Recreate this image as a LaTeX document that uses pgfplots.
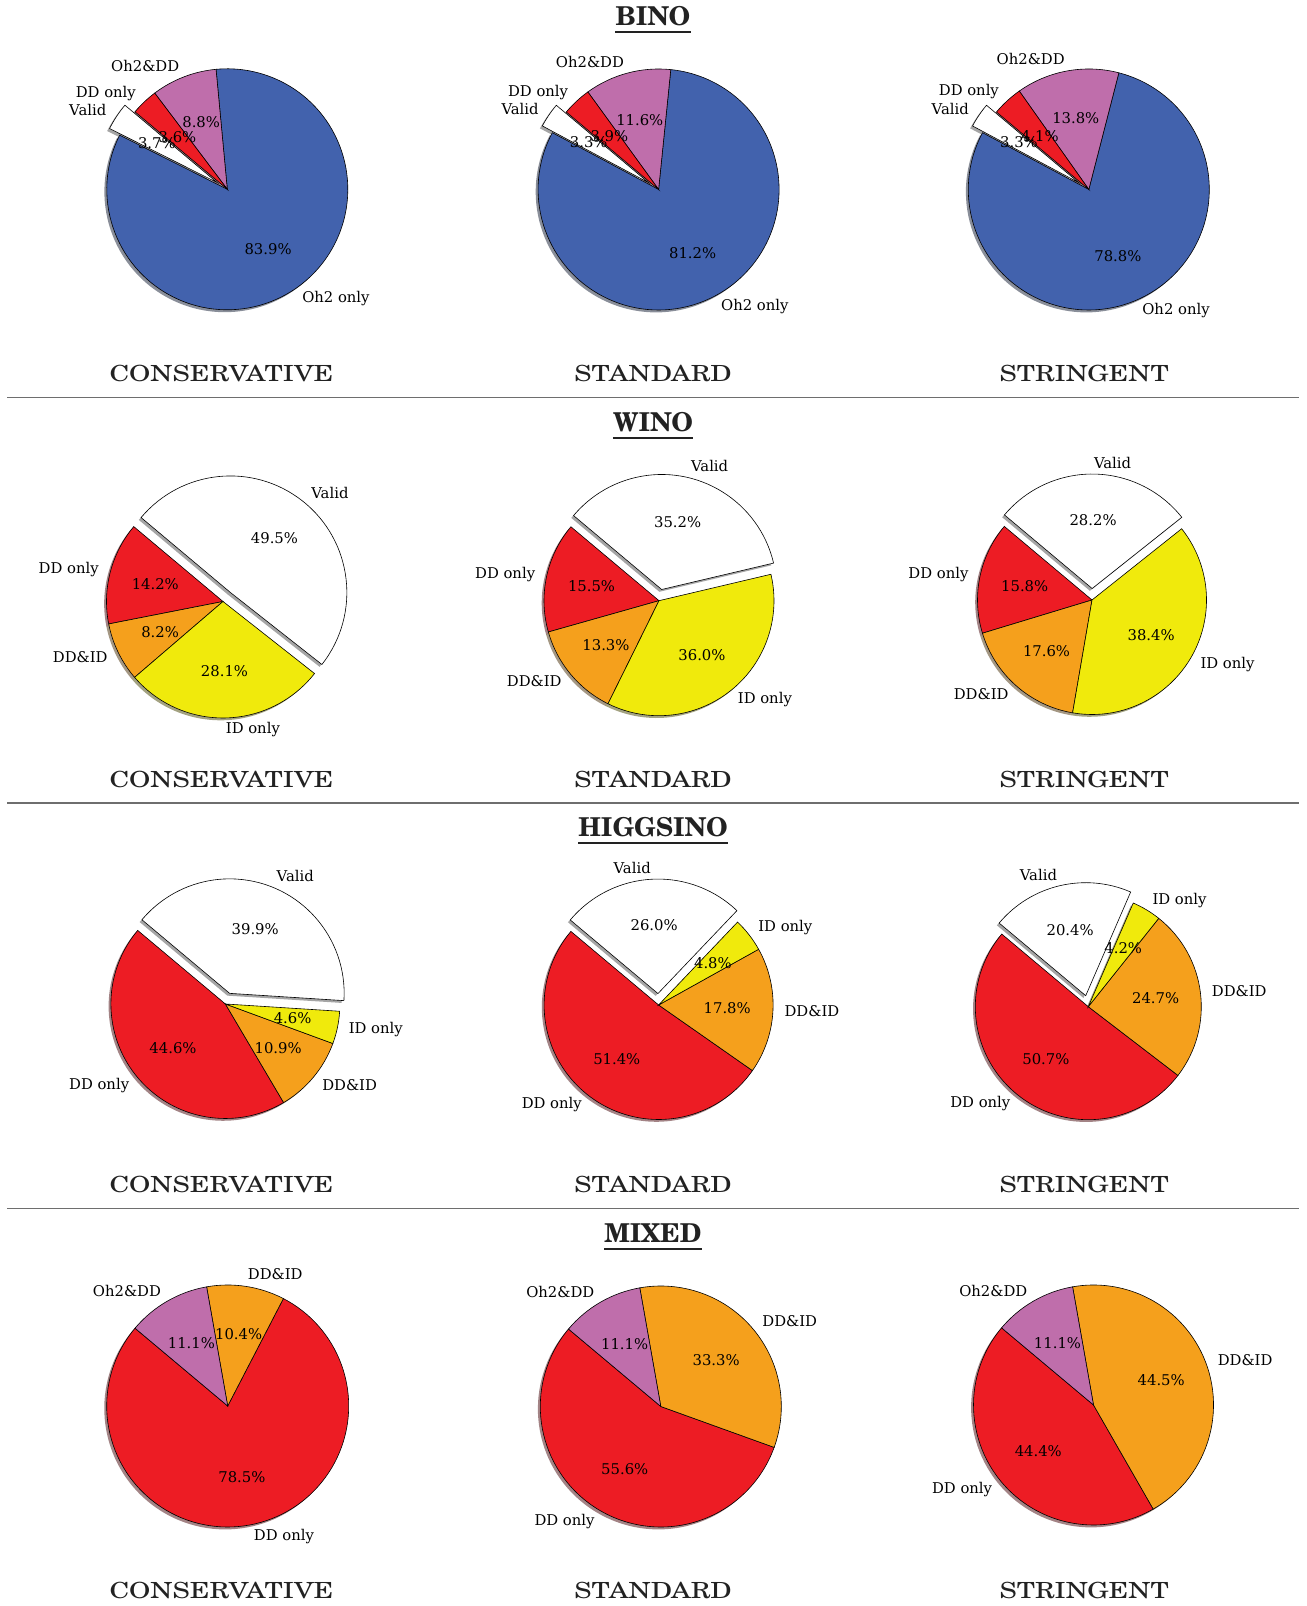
\documentclass[border=0pt]{standalone}
\usepackage{pgfplots}
\pgfplotsset{compat=1.18}
\usepackage{fontspec}
\setmainfont{DejaVu Serif}
\newfontfamily\titlefont{TeX Gyre Schola}
\newfontfamily\subfont[FakeStretch=1.23]{TeX Gyre Schola}
\definecolor{cblue}{RGB}{66,98,173}
\definecolor{cpink}{RGB}{191,110,171}
\definecolor{cred}{RGB}{237,28,36}
\definecolor{corange}{RGB}{245,160,28}
\definecolor{cyellow}{RGB}{240,234,12}
\definecolor{tdark}{RGB}{34,34,34}
\definecolor{sepgray}{RGB}{110,110,110}
\newcommand\lbfont{\fontsize{14.8bp}{17bp}\selectfont}

% \pie{cx}{cy (from top)}{radius}{value/colour/label/explode,...}; slices counter-clockwise from 140 deg
\newcommand\pie[4]{%
  \pgfmathsetmacro\PCX{#1}%
  \pgfmathsetmacro\PCY{-#2}%
  \pgfmathsetmacro\PR{#3}%
  \xdef\curang{140}%
  \foreach \val/\col/\lab/\ex in {#4}{%
    \pgfmathsetmacro\PA{\curang}%
    \pgfmathsetmacro\PB{\curang+3.6*\val}%
    \pgfmathsetmacro\PM{(\PA+\PB)/2}%
    \pgfmathsetmacro\OX{\PCX+\ex*\PR*cos(\PM)-0.02*\PR}%
    \pgfmathsetmacro\OY{\PCY+\ex*\PR*sin(\PM)-0.02*\PR}%
    \edef\tmp{\noexpand\fill[\col!30!black,opacity=0.5] (axis cs:\OX,\OY) -- ++(\PA:\PR bp) arc[start angle=\PA,end angle=\PB,radius=\PR bp] -- cycle;}%
    \tmp
    \xdef\curang{\PB}%
  }%
  \xdef\curang{140}%
  \foreach \val/\col/\lab/\ex in {#4}{%
    \pgfmathsetmacro\PA{\curang}%
    \pgfmathsetmacro\PB{\curang+3.6*\val}%
    \pgfmathsetmacro\PM{(\PA+\PB)/2}%
    \pgfmathsetmacro\OX{\PCX+\ex*\PR*cos(\PM)}%
    \pgfmathsetmacro\OY{\PCY+\ex*\PR*sin(\PM)}%
    \edef\tmp{\noexpand\filldraw[fill=\col,draw=black,line width=0.6bp] (axis cs:\OX,\OY) -- ++(\PA:\PR bp) arc[start angle=\PA,end angle=\PB,radius=\PR bp] -- cycle;}%
    \tmp
    \xdef\curang{\PB}%
  }%
  \xdef\curang{140}%
  \foreach \val/\col/\lab/\ex in {#4}{%
    \pgfmathsetmacro\PA{\curang}%
    \pgfmathsetmacro\PB{\curang+3.6*\val}%
    \pgfmathsetmacro\PM{(\PA+\PB)/2}%
    \pgfmathsetmacro\LDX{(1.1+\ex)*\PR*cos(\PM)}%
    \pgfmathsetmacro\LX{\PCX+\LDX}%
    \pgfmathsetmacro\LY{\PCY+(1.1+\ex)*\PR*sin(\PM)}%
    \pgfmathsetmacro\QX{\PCX+(0.6+\ex)*\PR*cos(\PM)}%
    \pgfmathsetmacro\QY{\PCY+(0.6+\ex)*\PR*sin(\PM)}%
    \ifdim\LDX pt>0pt \def\anc{west}\else\def\anc{east}\fi
    \edef\tmp{\noexpand\node[anchor=\anc,inner sep=0pt,font=\noexpand\lbfont] at (axis cs:\LX,\LY) {\unexpanded\expandafter{\lab}};
      \noexpand\node[anchor=center,inner sep=0pt,font=\noexpand\lbfont] at (axis cs:\QX,\QY) {\val\%};}%
    \tmp
    \xdef\curang{\PB}%
  }%
}
\newcommand\rowtitle[2]{%
  \node[anchor=base,inner sep=0pt,font=\titlefont\bfseries\fontsize{26bp}{30bp}\selectfont,text=tdark] (rt) at (axis cs:653,-#2) {#1};
  \draw[line width=1.8bp,tdark] ([yshift=-6.3bp]rt.base west) -- ([yshift=-6.3bp]rt.base east);
}
\newcommand\subtitles[1]{%
  \node[anchor=base,inner sep=0pt,font=\subfont\fontsize{22.2bp}{26bp}\selectfont,text=tdark] at (axis cs:221.5,-#1) {CONSERVATIVE};
  \node[anchor=base,inner sep=0pt,font=\subfont\fontsize{22.2bp}{26bp}\selectfont,text=tdark] at (axis cs:653,-#1) {STANDARD};
  \node[anchor=base,inner sep=0pt,font=\subfont\fontsize{22.2bp}{26bp}\selectfont,text=tdark] at (axis cs:1084.2,-#1) {STRINGENT};
}
\newcommand\sepline[1]{%
  \draw[line width=1.3bp,sepgray] (axis cs:7,-#1) -- (axis cs:1299,-#1);
}

\begin{document}
\begin{tikzpicture}
\begin{axis}[x=1bp,y=1bp,xmin=0,xmax=1306,ymin=-1606,ymax=0,
  hide axis,clip=false,scale only axis]
\path (axis cs:0,0) rectangle (axis cs:1306,-1606);
% BINO
\rowtitle{BINO}{26}
\pie{227.3}{189.3}{120.5}{3.7/white/Valid/0.1, 83.9/cblue/Oh2 only/0, 8.8/cpink/Oh2\&DD/0, 3.6/cred/DD only/0}
\pie{658.6}{189.5}{120.5}{3.3/white/Valid/0.1, 81.2/cblue/Oh2 only/0, 11.6/cpink/Oh2\&DD/0, 3.9/cred/DD only/0}
\pie{1088.8}{189.5}{120.5}{3.3/white/Valid/0.1, 78.8/cblue/Oh2 only/0, 13.8/cpink/Oh2\&DD/0, 4.1/cred/DD only/0}
\subtitles{381.7}
\sepline{397.4}
% WINO
\rowtitle{WINO}{431.5}
\pie{223}{601.5}{116.5}{14.2/cred/DD only/0, 8.2/corange/DD\&ID/0, 28.1/cyellow/ID only/0, 49.5/white/Valid/0.1}
\pie{659}{600.7}{115}{15.5/cred/DD only/0, 13.3/corange/DD\&ID/0, 36.0/cyellow/ID only/0, 35.2/white/Valid/0.1}
\pie{1092}{600}{114.5}{15.8/cred/DD only/0, 17.6/corange/DD\&ID/0, 38.4/cyellow/ID only/0, 28.2/white/Valid/0.1}
\subtitles{787.2}
\sepline{802.9}
% HIGGSINO
\rowtitle{HIGGSINO}{837}
\pie{225.4}{1004}{114.5}{44.6/cred/DD only/0, 10.9/corange/DD\&ID/0, 4.6/cyellow/ID only/0, 39.9/white/Valid/0.1}
\pie{658.6}{1005}{114.5}{51.4/cred/DD only/0, 17.8/corange/DD\&ID/0, 4.8/cyellow/ID only/0, 26.0/white/Valid/0.1}
\pie{1088.3}{1006.7}{113}{50.7/cred/DD only/0, 24.7/corange/DD\&ID/0, 4.2/cyellow/ID only/0, 20.4/white/Valid/0.1}
\subtitles{1192.7}
\sepline{1208.4}
% MIXED
\rowtitle{MIXED}{1242.5}
\pie{227.7}{1406}{121}{78.5/cred/DD only/0, 10.4/corange/DD\&ID/0, 11.1/cpink/Oh2\&DD/0}
\pie{660.8}{1406.5}{120.5}{55.6/cred/DD only/0, 33.3/corange/DD\&ID/0, 11.1/cpink/Oh2\&DD/0}
\pie{1093.5}{1405}{120}{44.4/cred/DD only/0, 44.5/corange/DD\&ID/0, 11.1/cpink/Oh2\&DD/0}
\subtitles{1598.2}
\end{axis}
\end{tikzpicture}
\end{document}
